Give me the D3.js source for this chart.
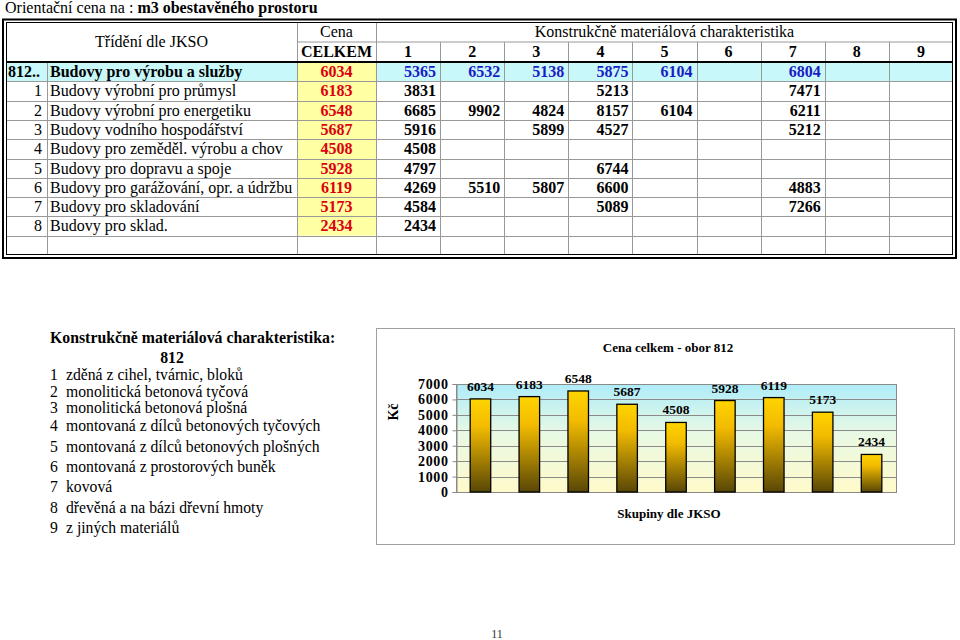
<!DOCTYPE html>
<html>
<head>
<meta charset="utf-8">
<script src="https://cdn.jsdelivr.net/npm/d3@7"></script>
<style>
  body { margin: 0; background: #fff; }
  svg { display: block; }
  text { font-family: "Liberation Serif", "Times New Roman", serif; }
</style>
</head>
<body>
<div id="page"></div>
<script>
// --- data ---
var rowCodes = ["812..", "1", "2", "3", "4", "5", "6", "7", "8"];
var rowNames = [
    "Budovy pro výrobu a služby",
    "Budovy výrobní pro průmysl",
    "Budovy výrobní pro energetiku",
    "Budovy vodního hospodářství",
    "Budovy pro zeměděl. výrobu a chov",
    "Budovy pro dopravu a spoje",
    "Budovy pro garážování, opr. a údržbu",
    "Budovy pro skladování",
    "Budovy pro sklad."
];
var celkem = [6034, 6183, 6548, 5687, 4508, 5928, 6119, 5173, 2434];
var matCols = ["1", "2", "3", "4", "5", "6", "7", "8", "9"];
// one array per row, columns 1..9 (null = empty cell)
var matValues = [
    [5365, 6532, 5138, 5875, 6104, null, 6804, null, null],
    [3831, null, null, 5213, null, null, 7471, null, null],
    [6685, 9902, 4824, 8157, 6104, null, 6211, null, null],
    [5916, null, 5899, 4527, null, null, 5212, null, null],
    [4508, null, null, null, null, null, null, null, null],
    [4797, null, null, 6744, null, null, null, null, null],
    [4269, 5510, 5807, 6600, null, null, 4883, null, null],
    [4584, null, null, 5089, null, null, 7266, null, null],
    [2434, null, null, null, null, null, null, null, null]
];
var materials = [
    "zděná z cihel, tvárnic, bloků",
    "monolitická betonová tyčová",
    "monolitická betonová plošná",
    "montovaná z dílců betonových tyčových",
    "montovaná z dílců betonových plošných",
    "montovaná z prostorových buněk",
    "kovová",
    "dřevěná a na bázi dřevní hmoty",
    "z jiných materiálů"
];
var yTicks = [0, 1000, 2000, 3000, 4000, 5000, 6000, 7000];

var width = 960,
    height = 640;

var svg = d3.select("#page")
    .append("svg")
    .attr("width", width)
    .attr("height", height);

// --- title ---
var title = svg.append("text").attr("x", 5).attr("y", 13).attr("font-size", 16);
title.append("tspan").text("Orientační cena na : ");
title.append("tspan").attr("font-weight", "bold").text("m3 obestavěného prostoru");

// --- table ---
var tLeft = 6, tRight = 953, xName = 47, xCena = 297, xMat = 376;
var hTop = 23, hMid = 42, hBot = 62, tBot = 255;
var matX = d3.scaleLinear().domain([0, 9]).range([xMat, tRight]);
var rowY = d3.scaleLinear().domain([0, 10]).range([hBot, tBot]);

var table = svg.append("g");

table.append("rect")
    .attr("x", tLeft).attr("y", rowY(0))
    .attr("width", tRight - tLeft).attr("height", rowY(1) - rowY(0))
    .attr("fill", "#c8f8fa");
table.append("rect")
    .attr("x", xCena).attr("y", rowY(0))
    .attr("width", xMat - xCena).attr("height", rowY(rowCodes.length) - rowY(0))
    .attr("fill", "#ffffa4");

// grid lines
var gridColor = "#999";
table.append("line").attr("x1", xCena).attr("x2", tRight).attr("y1", hMid).attr("y2", hMid)
    .attr("stroke", gridColor);
d3.range(1, 10).forEach(function(i) {
    table.append("line").attr("x1", tLeft).attr("x2", tRight)
        .attr("y1", Math.round(rowY(i)) + 0.5).attr("y2", Math.round(rowY(i)) + 0.5)
        .attr("stroke", gridColor);
});
table.append("line").attr("x1", xName + 0.5).attr("x2", xName + 0.5).attr("y1", hBot).attr("y2", tBot)
    .attr("stroke", gridColor);
[xCena, xMat].forEach(function(x) {
    table.append("line").attr("x1", x + 0.5).attr("x2", x + 0.5).attr("y1", hTop).attr("y2", tBot)
        .attr("stroke", gridColor);
});
d3.range(1, 9).forEach(function(i) {
    var x = Math.round(matX(i)) + 0.5;
    table.append("line").attr("x1", x).attr("x2", x).attr("y1", hMid).attr("y2", tBot)
        .attr("stroke", gridColor);
});
table.append("line").attr("x1", tLeft).attr("x2", tRight).attr("y1", hBot).attr("y2", hBot)
    .attr("stroke", "#000").attr("stroke-width", 2);

// double outer border
table.append("rect").attr("x", 3).attr("y", 19.5).attr("width", 953).attr("height", 238.5)
    .attr("fill", "none").attr("stroke", "#000").attr("stroke-width", 2);
table.append("rect").attr("x", 6.5).attr("y", 22.5).attr("width", 946).attr("height", 232)
    .attr("fill", "none").attr("stroke", "#000").attr("stroke-width", 1);

// header texts
table.append("text").attr("x", (tLeft + xCena) / 2).attr("y", 47)
    .attr("text-anchor", "middle").attr("font-size", 16).text("Třídění dle JKSO");
table.append("text").attr("x", (xCena + xMat) / 2).attr("y", 37)
    .attr("text-anchor", "middle").attr("font-size", 16).text("Cena");
table.append("text").attr("x", (xCena + xMat) / 2).attr("y", 57)
    .attr("text-anchor", "middle").attr("font-size", 16).attr("font-weight", "bold").text("CELKEM");
table.append("text").attr("x", (xMat + tRight) / 2).attr("y", 37)
    .attr("text-anchor", "middle").attr("font-size", 16).text("Konstrukčně materiálová charakteristika");
table.selectAll(".mhead")
    .data(matCols).enter()
    .append("text")
    .attr("x", function(d, i) { return matX(i + 0.5); })
    .attr("y", 57)
    .attr("text-anchor", "middle").attr("font-size", 16).attr("font-weight", "bold")
    .text(function(d) { return d; });

// rows
rowCodes.forEach(function(code, r) {
    var base = rowY(r) + 15;
    var first = r === 0;
    table.append("text")
        .attr("x", first ? 8 : 42).attr("y", base)
        .attr("text-anchor", first ? "start" : "end")
        .attr("font-size", 16).attr("font-weight", first ? "bold" : "normal")
        .text(code);
    table.append("text")
        .attr("x", 50).attr("y", base)
        .attr("font-size", 16).attr("font-weight", first ? "bold" : "normal")
        .text(rowNames[r]);
    table.append("text")
        .attr("x", (xCena + xMat) / 2).attr("y", base)
        .attr("text-anchor", "middle").attr("font-size", 16).attr("font-weight", "bold")
        .attr("fill", "#dc0010")
        .text(celkem[r]);
    matValues[r].forEach(function(v, c) {
        if (v === null) return;
        table.append("text")
            .attr("x", matX(c + 1) - 4).attr("y", base)
            .attr("text-anchor", "end").attr("font-size", 16).attr("font-weight", "bold")
            .attr("fill", first ? "#1c1cc4" : "#000")
            .text(v);
    });
});

// --- legend text block ---
var legend = svg.append("g");
legend.append("text").attr("x", 50).attr("y", 343)
    .attr("font-size", 15.8).attr("font-weight", "bold")
    .text("Konstrukčně materiálová charakteristika:");
legend.append("text").attr("x", 172).attr("y", 363).attr("text-anchor", "middle")
    .attr("font-size", 15.8).attr("font-weight", "bold").text("812");
var legendY = [380, 397, 413, 431, 452, 472, 492, 513, 533];
legend.selectAll(".num")
    .data(materials).enter()
    .append("text")
    .attr("x", 50)
    .attr("y", function(d, i) { return legendY[i]; })
    .attr("font-size", 15.7)
    .text(function(d, i) { return matCols[i]; });
legend.selectAll(".item")
    .data(materials).enter()
    .append("text")
    .attr("x", 66)
    .attr("y", function(d, i) { return legendY[i]; })
    .attr("font-size", 15.7)
    .text(function(d) { return d; });

// --- bar chart ---
var defs = svg.append("defs");
var bg = defs.append("linearGradient").attr("id", "plotBg")
    .attr("x1", 0).attr("y1", 0).attr("x2", 0).attr("y2", 1);
bg.append("stop").attr("offset", "0%").attr("stop-color", "#aeecf9");
bg.append("stop").attr("offset", "45%").attr("stop-color", "#e8f9e4");
bg.append("stop").attr("offset", "100%").attr("stop-color", "#fffaca");
var barG = defs.append("linearGradient").attr("id", "barFill")
    .attr("x1", 0).attr("y1", 0).attr("x2", 0).attr("y2", 1);
barG.append("stop").attr("offset", "0%").attr("stop-color", "#ffd400");
barG.append("stop").attr("offset", "30%").attr("stop-color", "#f2bb00");
barG.append("stop").attr("offset", "100%").attr("stop-color", "#584606");

svg.append("rect")
    .attr("x", 376.5).attr("y", 328.5).attr("width", 578).attr("height", 216)
    .attr("fill", "#fff").attr("stroke", "#a0a0a0");

var plot = { left: 456, right: 896, top: 384, bottom: 492 };

var x = d3.scaleBand()
    .domain(rowCodes)
    .range([plot.left, plot.right])
    .paddingInner(0.58)
    .paddingOuter(0.29);

var y = d3.scaleLinear()
    .domain([0, 7000])
    .range([plot.bottom, plot.top]);

svg.append("rect")
    .attr("x", plot.left).attr("y", plot.top)
    .attr("width", plot.right - plot.left).attr("height", plot.bottom - plot.top)
    .attr("fill", "url(#plotBg)");

svg.append("g")
    .selectAll("line")
    .data(yTicks).enter()
    .append("line")
    .attr("x1", plot.left).attr("x2", plot.right)
    .attr("y1", function(d) { return Math.round(y(d)) + 0.5; })
    .attr("y2", function(d) { return Math.round(y(d)) + 0.5; })
    .attr("stroke", "#8a8a8a");

svg.append("rect")
    .attr("x", plot.left + 0.5).attr("y", plot.top + 0.5)
    .attr("width", plot.right - plot.left).attr("height", plot.bottom - plot.top)
    .attr("fill", "none").attr("stroke", "#8a8a8a");

var yAxis = svg.append("g")
    .attr("transform", "translate(" + (plot.left + 0.5) + ",0)")
    .call(d3.axisLeft(y).tickValues(yTicks).tickSize(4).tickPadding(4).tickFormat(d3.format("d")));
yAxis.select(".domain").attr("stroke", "#8a8a8a");
yAxis.selectAll(".tick line").attr("stroke", "#8a8a8a");
yAxis.selectAll(".tick text")
    .attr("font-family", "Liberation Serif, Times New Roman, serif")
    .attr("font-size", 14).attr("font-weight", "bold").attr("fill", "#000")
    .attr("letter-spacing", 0.6);

svg.append("g")
    .selectAll("rect")
    .data(celkem).enter()
    .append("rect")
    .attr("x", function(d, i) { return x(rowCodes[i]); })
    .attr("y", function(d) { return y(d); })
    .attr("width", x.bandwidth())
    .attr("height", function(d) { return y(0) - y(d); })
    .attr("fill", "url(#barFill)")
    .attr("stroke", "#000").attr("stroke-width", 1.3);

svg.append("g")
    .selectAll("text")
    .data(celkem).enter()
    .append("text")
    .attr("x", function(d, i) { return x(rowCodes[i]) + x.bandwidth() / 2; })
    .attr("y", function(d) { return y(d) - 8; })
    .attr("text-anchor", "middle")
    .attr("font-size", 13.5).attr("font-weight", "bold")
    .text(function(d) { return d; });

svg.append("text")
    .attr("x", 668).attr("y", 352).attr("text-anchor", "middle")
    .attr("font-size", 13).attr("font-weight", "bold")
    .text("Cena celkem - obor 812");
svg.append("text")
    .attr("x", 669).attr("y", 518).attr("text-anchor", "middle")
    .attr("font-size", 13).attr("font-weight", "bold")
    .text("Skupiny dle JKSO");
svg.append("text")
    .attr("transform", "translate(398,412) rotate(-90)")
    .attr("text-anchor", "middle")
    .attr("font-size", 14).attr("font-weight", "bold")
    .text("Kč");

// page number
svg.append("text").attr("x", 497).attr("y", 638).attr("text-anchor", "middle")
    .attr("font-size", 12).attr("fill", "#333").text("11");
</script>
</body>
</html>
